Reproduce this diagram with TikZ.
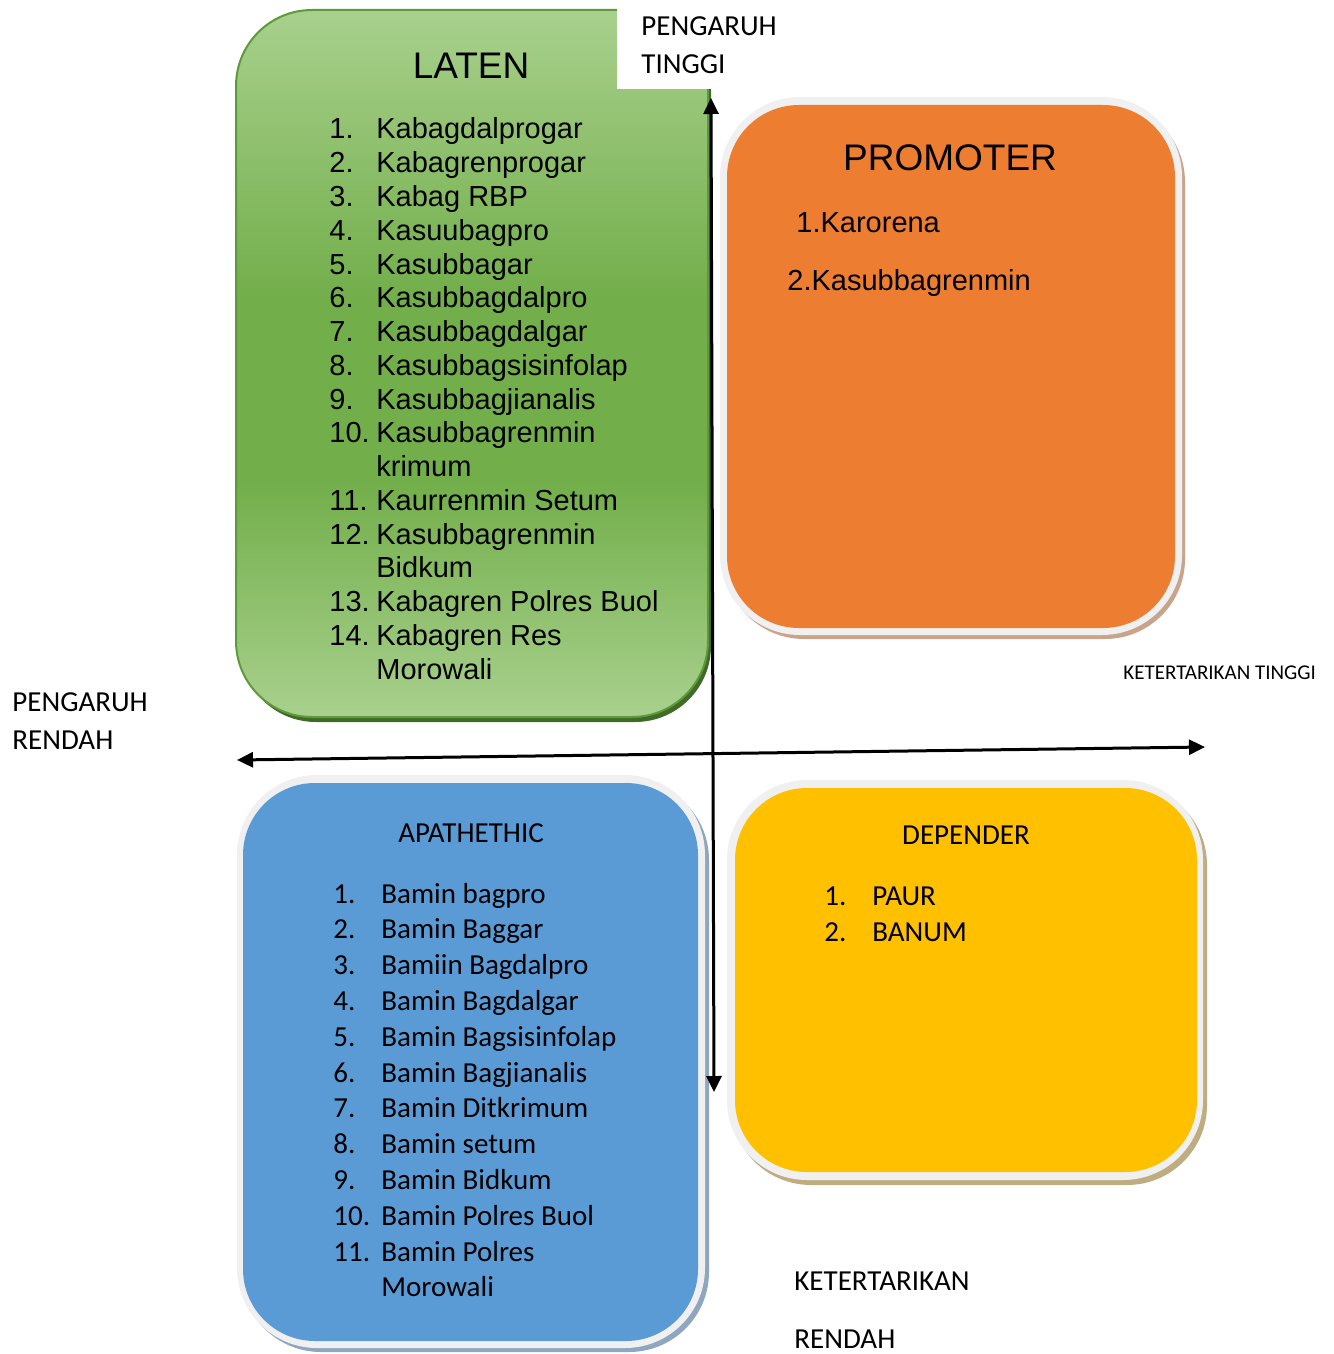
\documentclass[tikz,border=0pt]{standalone}
\usepackage{fontspec}
\setmainfont{Liberation Sans}
\newfontfamily\calibfont{Carlito}
\usetikzlibrary{arrows.meta}
\definecolor{latenlight}{HTML}{A9D18E}
\definecolor{latenmid}{HTML}{72AE4A}
\definecolor{latenedge}{HTML}{5E9A3C}
\definecolor{latenshadow}{HTML}{3F6A28}
\definecolor{promofill}{HTML}{ED7D31}
\definecolor{promoshadow}{HTML}{C9A48A}
\definecolor{apafill}{HTML}{5B9BD5}
\definecolor{apashadow}{HTML}{8EA6BF}
\definecolor{depfill}{HTML}{FFC000}
\definecolor{depshadow}{HTML}{BFAD80}
\definecolor{framegray}{HTML}{F0F0F0}

\begin{document}
\begin{tikzpicture}[
  x=0.5pt,
  y=-0.5pt,
  every node/.style={inner sep=0pt, text=black},
  titletxt/.style={font=\fontsize{18.5}{22}\selectfont},
  listtxt/.style={anchor=base west, font=\fontsize{14.5}{17}\selectfont},
  calibtitle/.style={font=\calibfont\fontsize{14.5}{17}\selectfont},
  caliblist/.style={anchor=base west, font=\calibfont\fontsize{14.5}{17}\selectfont},
  smalltxt/.style={anchor=base west, font=\calibfont\fontsize{10.5}{12}\selectfont},
  axisarrow/.style={black, line width=1.5pt,
                    {Triangle[length=8pt,width=7.5pt]}-{Triangle[length=8pt,width=7.5pt]}},
  frame/.style={fill=framegray, rounded corners=40pt},
  inner/.style={rounded corners=36pt}
]
  \useasboundingbox (0,0) rectangle (1333,1354);

  % ---- LATEN (top left) ----
  \fill[latenshadow, rounded corners=38pt] (240,14) rectangle (711,722);
  \begin{scope}
    \clip[rounded corners=38pt] (236,10) rectangle (708,717);
    \shade[top color=latenlight, bottom color=latenmid] (230,5) rectangle (715,300);
    \fill[latenmid] (230,299) rectangle (715,481);
    \shade[top color=latenmid, bottom color=latenlight] (230,480) rectangle (715,720);
  \end{scope}
  \draw[latenedge, line width=1pt, rounded corners=38pt] (236,10) rectangle (708,717);
  \fill[white] (617,-2) rectangle (711,89);
  \node[titletxt] (laten) at (471,66) {LATEN};
  \foreach \n/\t [count=\i from 0] in {1./Kabagdalprogar, 2./Kabagrenprogar,
      3./Kabag RBP, 4./Kasuubagpro, 5./Kasubbagar, 6./Kasubbagdalpro,
      7./Kasubbagdalgar, 8./Kasubbagsisinfolap, 9./Kasubbagjianalis,
      10./Kasubbagrenmin, /krimum, 11./Kaurrenmin Setum, 12./Kasubbagrenmin,
      /Bidkum, 13./Kabagren Polres Buol, 14./Kabagren Res, /Morowali}{
    \node[listtxt] (latnum-\i) at (329,{139+33.75*\i}) {\n};
    \node[listtxt] (lattxt-\i) at (376,{139+33.75*\i}) {\t};
  }

  % ---- PROMOTER (top right) ----
  \fill[promoshadow, rounded corners=40pt] (724,102) rectangle (1185,639);
  \fill[frame] (720,97) rectangle (1182,635);
  \fill[promofill, inner] (727,105) rectangle (1175,628);
  \node[titletxt] (promoter) at (950,158) {PROMOTER};
  \node[listtxt] (promo-1) at (796,232) {1.Karorena};
  \node[listtxt] (promo-2) at (787,290) {2.Kasubbagrenmin};

  % ---- APATHETHIC (bottom left) ----
  \fill[apashadow, rounded corners=40pt] (241,780) rectangle (709,1352);
  \fill[frame] (237,775) rectangle (705,1348);
  \fill[apafill, inner] (243,783) rectangle (698,1341);
  \node[calibtitle] (apathethic) at (471,833) {APATHETHIC};
  \foreach \n/\t [count=\i from 0] in {1./Bamin bagpro, 2./Bamin Baggar,
      3./Bamiin Bagdalpro, 4./Bamin Bagdalgar, 5./Bamin Bagsisinfolap,
      6./Bamin Bagjianalis, 7./Bamin Ditkrimum, 8./Bamin setum,
      9./Bamin Bidkum, 10./Bamin Polres Buol, 11./Bamin Polres, /Morowali}{
    \node[caliblist] (apanum-\i) at (333,{903+35.8*\i}) {\n};
    \node[caliblist] (apatxt-\i) at (381,{903+35.8*\i}) {\t};
  }

  % ---- DEPENDER (bottom right) ----
  \fill[depshadow, rounded corners=40pt] (731,785) rectangle (1207,1185);
  \fill[frame] (727,780) rectangle (1203,1180);
  \fill[depfill, inner] (735,788) rectangle (1197,1172);
  \node[calibtitle] (depender) at (966,835) {DEPENDER};
  \node[caliblist] (depnum-0) at (824,905) {1.};
  \node[caliblist] (deptxt-0) at (872,905) {PAUR};
  \node[caliblist] (depnum-1) at (824,941) {2.};
  \node[caliblist] (deptxt-1) at (872,941) {BANUM};

  % ---- axes ----
  \coordinate (ptop) at (711,98);
  \coordinate (pbot) at (714,1092);
  \coordinate (kkiri) at (237,760);
  \coordinate (kkanan) at (1205,747);
  \draw[axisarrow] (pbot) -- (ptop);
  \draw[axisarrow] (kkiri) -- (kkanan);

  % ---- axis labels ----
  \node[caliblist] (ptinggi-1) at (641,36) {PENGARUH};
  \node[caliblist] (ptinggi-2) at (641,74) {TINGGI};
  \node[caliblist] (prendah-1) at (12,711) {PENGARUH};
  \node[caliblist] (prendah-2) at (12,749) {RENDAH};
  \node[smalltxt] (ktinggi) at (1123,679) {KETERTARIKAN TINGGI};
  \node[caliblist] (krendah-1) at (794,1290) {KETERTARIKAN};
  \node[caliblist] (krendah-2) at (794,1348) {RENDAH};
\end{tikzpicture}
\end{document}
